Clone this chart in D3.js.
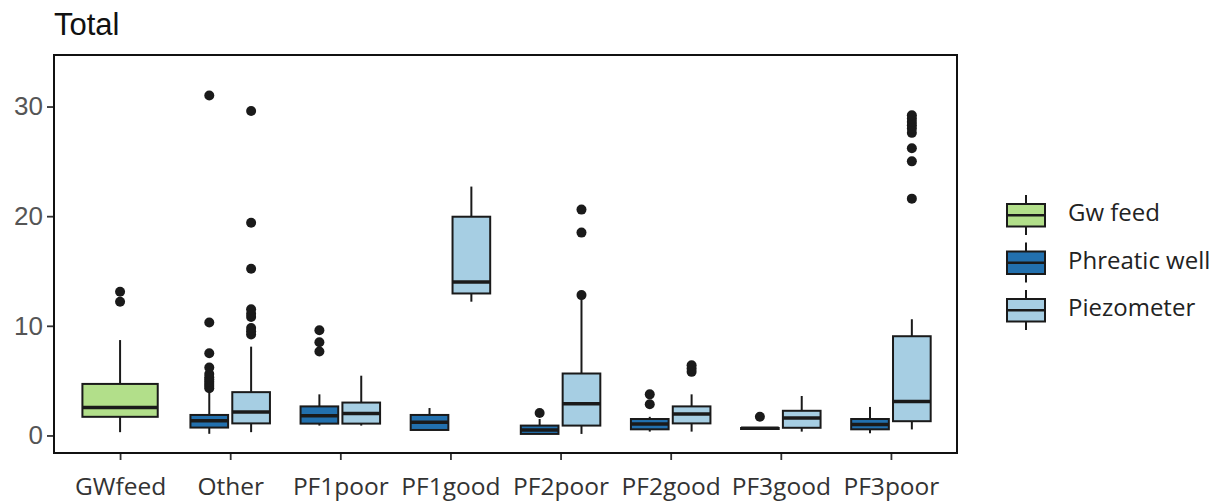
<!DOCTYPE html>
<html>
<head>
<meta charset="utf-8">
<title>Total</title>
<script src="https://cdnjs.cloudflare.com/ajax/libs/d3/7.8.5/d3.min.js"></script>
<style>
  body { margin: 0; background: #fff; }
  .title { font-family: "Liberation Sans", Arial, sans-serif; font-size: 31px; fill: #111; }
  .ytick text { font-family: "Liberation Sans", Arial, sans-serif; font-size: 26px; fill: #555; }
  .xtick text { font-family: "Open Sans", sans-serif; font-size: 24.5px; fill: #333; }
  .legend text { font-family: "Open Sans", sans-serif; font-size: 24px; fill: #222; }
</style>
</head>
<body>
<div id="chart"></div>
<script>
// categories on the x axis
var categories = ["GWfeed", "Other", "PF1poor", "PF1good", "PF2poor", "PF2good", "PF3good", "PF3poor"];
var groups = ["Gw feed", "Phreatic well", "Piezometer"];
var colors = ["#b2df8a", "#2270ae", "#a6cee3"];
var yTicks = [0, 10, 20, 30];

// box stats: [category, group, lower whisker, q1, median, q3, upper whisker]
var boxes = [
  ["GWfeed",  "Gw feed",       0.3,  1.7,  2.55, 4.7,  8.7],
  ["Other",   "Phreatic well", 0.15, 0.72, 1.35, 1.87, 4.0],
  ["Other",   "Piezometer",    0.3,  1.1,  2.15, 3.95, 8.1],
  ["PF1poor", "Phreatic well", 0.9,  1.08, 1.8,  2.65, 3.75],
  ["PF1poor", "Piezometer",    0.9,  1.08, 2.0,  3.0,  5.45],
  ["PF1good", "Phreatic well", 0.5,  0.5,  1.2,  1.87, 2.5],
  ["PF1good", "Piezometer",    12.2, 12.95, 14.0, 19.95, 22.7],
  ["PF2poor", "Phreatic well", 0.12, 0.14, 0.5,  0.9,  1.5],
  ["PF2poor", "Piezometer",    0.14, 0.9,  2.9,  5.65, 12.6],
  ["PF2good", "Phreatic well", 0.35, 0.56, 1.05, 1.5,  1.7],
  ["PF2good", "Piezometer",    0.35, 1.1,  1.95, 2.65, 3.75],
  ["PF3good", "Phreatic well", 0.6,  0.62, 0.65, 0.68, 0.7],
  ["PF3good", "Piezometer",    0.35, 0.7,  1.6,  2.25, 3.6],
  ["PF3poor", "Phreatic well", 0.2,  0.56, 1.0,  1.5,  2.6],
  ["PF3poor", "Piezometer",    0.55, 1.3,  3.1,  9.05, 10.6]
];

// outliers, same order as boxes
var outliers = [
  [12.2, 13.1],
  [4.3, 4.5, 4.7, 4.9, 5.1, 5.3, 5.6, 6.2, 7.5, 10.3, 31.0],
  [9.2, 9.5, 9.8, 10.8, 11.1, 11.5, 15.2, 19.4, 29.6],
  [7.65, 8.5, 9.6],
  [],
  [],
  [],
  [2.05],
  [12.8, 18.5, 20.6],
  [2.85, 3.75],
  [5.8, 6.1, 6.4],
  [1.7],
  [],
  [],
  [21.6, 25.0, 26.2, 27.6, 28.0, 28.3, 28.6, 28.9, 29.2]
];

var width = 1218, height = 503;
var panel = { left: 54, right: 957, top: 55, bottom: 453 };

var svg = d3.select("#chart").append("svg")
    .attr("width", width)
    .attr("height", height);

var x = d3.scalePoint()
    .domain(categories)
    .range([panel.left, panel.right])
    .padding(0.6);

var y = d3.scaleLinear()
    .domain([-1.6, 34.7])
    .range([panel.bottom, panel.top]);

var color = d3.scaleOrdinal().domain(groups).range(colors);

var dodge = x.step() * 0.76;
var ink = "#1a1a1a";

// work out each box's centre and width (ggplot dodge2 style)
function boxGeom(b) {
    var same = boxes.filter(function(d) { return d[0] === b[0]; });
    var n = same.length;
    var i = same.indexOf(b);
    var slot = dodge / n;
    var cx = x(b[0]) - dodge / 2 + slot * (i + 0.5);
    return { cx: cx, w: slot * 0.9 };
}

svg.append("text")
    .attr("class", "title")
    .attr("x", panel.left)
    .attr("y", 35)
    .text("Total");

// y axis
var yAxis = svg.append("g")
    .attr("class", "ytick")
    .attr("transform", "translate(" + panel.left + ",0)")
    .call(d3.axisLeft(y).tickValues(yTicks).tickSize(7).tickPadding(4));
yAxis.select(".domain").remove();
yAxis.selectAll("line").attr("stroke", "#333").attr("stroke-width", 1.8);

// x axis
var xAxis = svg.append("g")
    .attr("class", "xtick")
    .attr("transform", "translate(0," + panel.bottom + ")")
    .call(d3.axisBottom(x).tickSize(7).tickPadding(13));
xAxis.select(".domain").remove();
xAxis.selectAll("line").attr("stroke", "#333").attr("stroke-width", 1.8);
xAxis.selectAll("text").attr("dy", "0.9em");

var g = svg.append("g");

boxes.forEach(function(b, k) {
    var geo = boxGeom(b);
    var bg = g.append("g");
    // whiskers
    bg.append("line")
        .attr("x1", geo.cx).attr("x2", geo.cx)
        .attr("y1", y(b[5])).attr("y2", y(b[6]))
        .attr("stroke", ink).attr("stroke-width", 2);
    bg.append("line")
        .attr("x1", geo.cx).attr("x2", geo.cx)
        .attr("y1", y(b[3])).attr("y2", y(b[2]))
        .attr("stroke", ink).attr("stroke-width", 2);
    // box
    bg.append("rect")
        .attr("x", geo.cx - geo.w / 2)
        .attr("y", y(b[5]))
        .attr("width", geo.w)
        .attr("height", Math.max(1, y(b[3]) - y(b[5])))
        .attr("fill", color(b[1]))
        .attr("stroke", ink)
        .attr("stroke-width", 2);
    // median
    bg.append("line")
        .attr("x1", geo.cx - geo.w / 2).attr("x2", geo.cx + geo.w / 2)
        .attr("y1", y(b[4])).attr("y2", y(b[4]))
        .attr("stroke", ink).attr("stroke-width", 3.5);
    // outliers
    bg.selectAll("circle")
        .data(outliers[k])
        .enter().append("circle")
        .attr("cx", geo.cx)
        .attr("cy", function(d) { return y(d); })
        .attr("r", 5)
        .attr("fill", ink);
});

// panel border
svg.append("rect")
    .attr("x", panel.left)
    .attr("y", panel.top)
    .attr("width", panel.right - panel.left)
    .attr("height", panel.bottom - panel.top)
    .attr("fill", "none")
    .attr("stroke", "#111")
    .attr("stroke-width", 2);

// legend
var legend = svg.append("g").attr("class", "legend");
groups.forEach(function(name, i) {
    var top = 195 + i * 47.5;
    var kx = 1007, kw = 38, kmid = kx + kw / 2;
    var lg = legend.append("g");
    lg.append("line")
        .attr("x1", kmid).attr("x2", kmid)
        .attr("y1", top).attr("y2", top + 40)
        .attr("stroke", ink).attr("stroke-width", 2);
    lg.append("rect")
        .attr("x", kx).attr("y", top + 9)
        .attr("width", kw).attr("height", 22.5)
        .attr("fill", color(name))
        .attr("stroke", ink).attr("stroke-width", 2);
    lg.append("line")
        .attr("x1", kx).attr("x2", kx + kw)
        .attr("y1", top + 20.25).attr("y2", top + 20.25)
        .attr("stroke", ink).attr("stroke-width", 2.5);
    lg.append("text")
        .attr("x", 1068)
        .attr("y", top + 18)
        .attr("dy", "0.35em")
        .text(name);
});
</script>
</body>
</html>
